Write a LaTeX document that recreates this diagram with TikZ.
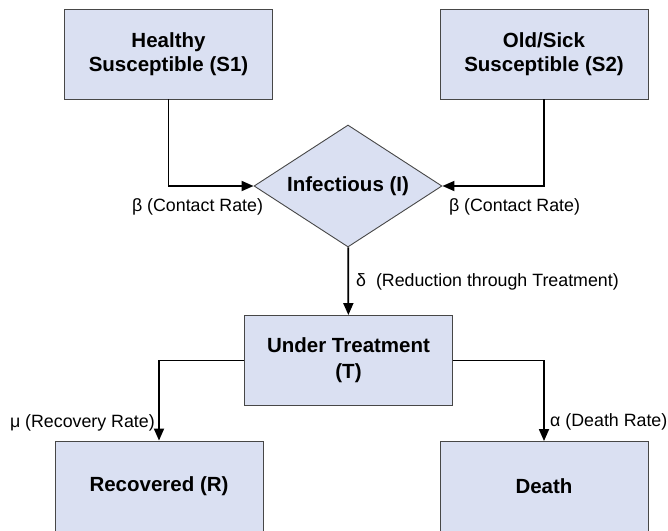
\documentclass[tikz,border=0pt]{standalone}
\usepackage{fontspec}
\setmainfont{Liberation Sans}
\usepackage{tikz}
\usetikzlibrary{arrows.meta,shapes.geometric}
\definecolor{sirfill}{HTML}{DAE0F2}
\definecolor{sirline}{HTML}{474747}

\begin{document}
\begin{tikzpicture}[x=1pt, y=-1pt,
  compartment/.style={draw=sirline, line width=0.9pt, fill=sirfill, minimum width=208pt, minimum height=90pt, align=center, font=\fontsize{20.5}{24}\selectfont\bfseries},
  infnode/.style={compartment, shape=diamond, aspect=1.54, minimum width=188pt, minimum height=122pt, inner sep=0pt},
  rate/.style={font=\fontsize{17.8}{20}\selectfont, inner sep=0pt},
  flow/.style={draw=black, line width=1.8pt, -{Triangle[length=12pt, width=10pt]}}]
\useasboundingbox (0,0) rectangle (668,530);
\clip (0,0) rectangle (668,530);

% compartments
\node[compartment] (s1) at (168.5,54) {Healthy\\Susceptible (S1)};
\node[compartment] (s2) at (544,54) {Old/Sick\\Susceptible (S2)};
\node[infnode] (inf) at (348,186) {Infectious (I)};
\node[compartment] (treat) at (348.5,360.5) {Under Treatment\\[2pt](T)};
\node[compartment] (rec) at (159,486) {Recovered (R)};
\node[compartment] (death) at (544,486.5) {Death};

% flows
\draw[flow] (s1) |- (inf);
\draw[flow] (s2) |- (inf);
\draw[flow] (inf) -- (treat);
\draw[flow] (treat) -| (rec);
\draw[flow] (treat) -| (death);

% rates
\node[rate] (beta1) at (197.5,207) {β (Contact Rate)};
\node[rate] (beta2) at (514.5,207) {β (Contact Rate)};
\node[rate, anchor=west] (delta) at (356,282) {δ~~(Reduction through Treatment)};
\node[rate, anchor=east] (mu) at (155,423) {μ (Recovery Rate)};
\node[rate, anchor=west] (alpha) at (550,422) {α (Death Rate)};
\end{tikzpicture}
\end{document}
